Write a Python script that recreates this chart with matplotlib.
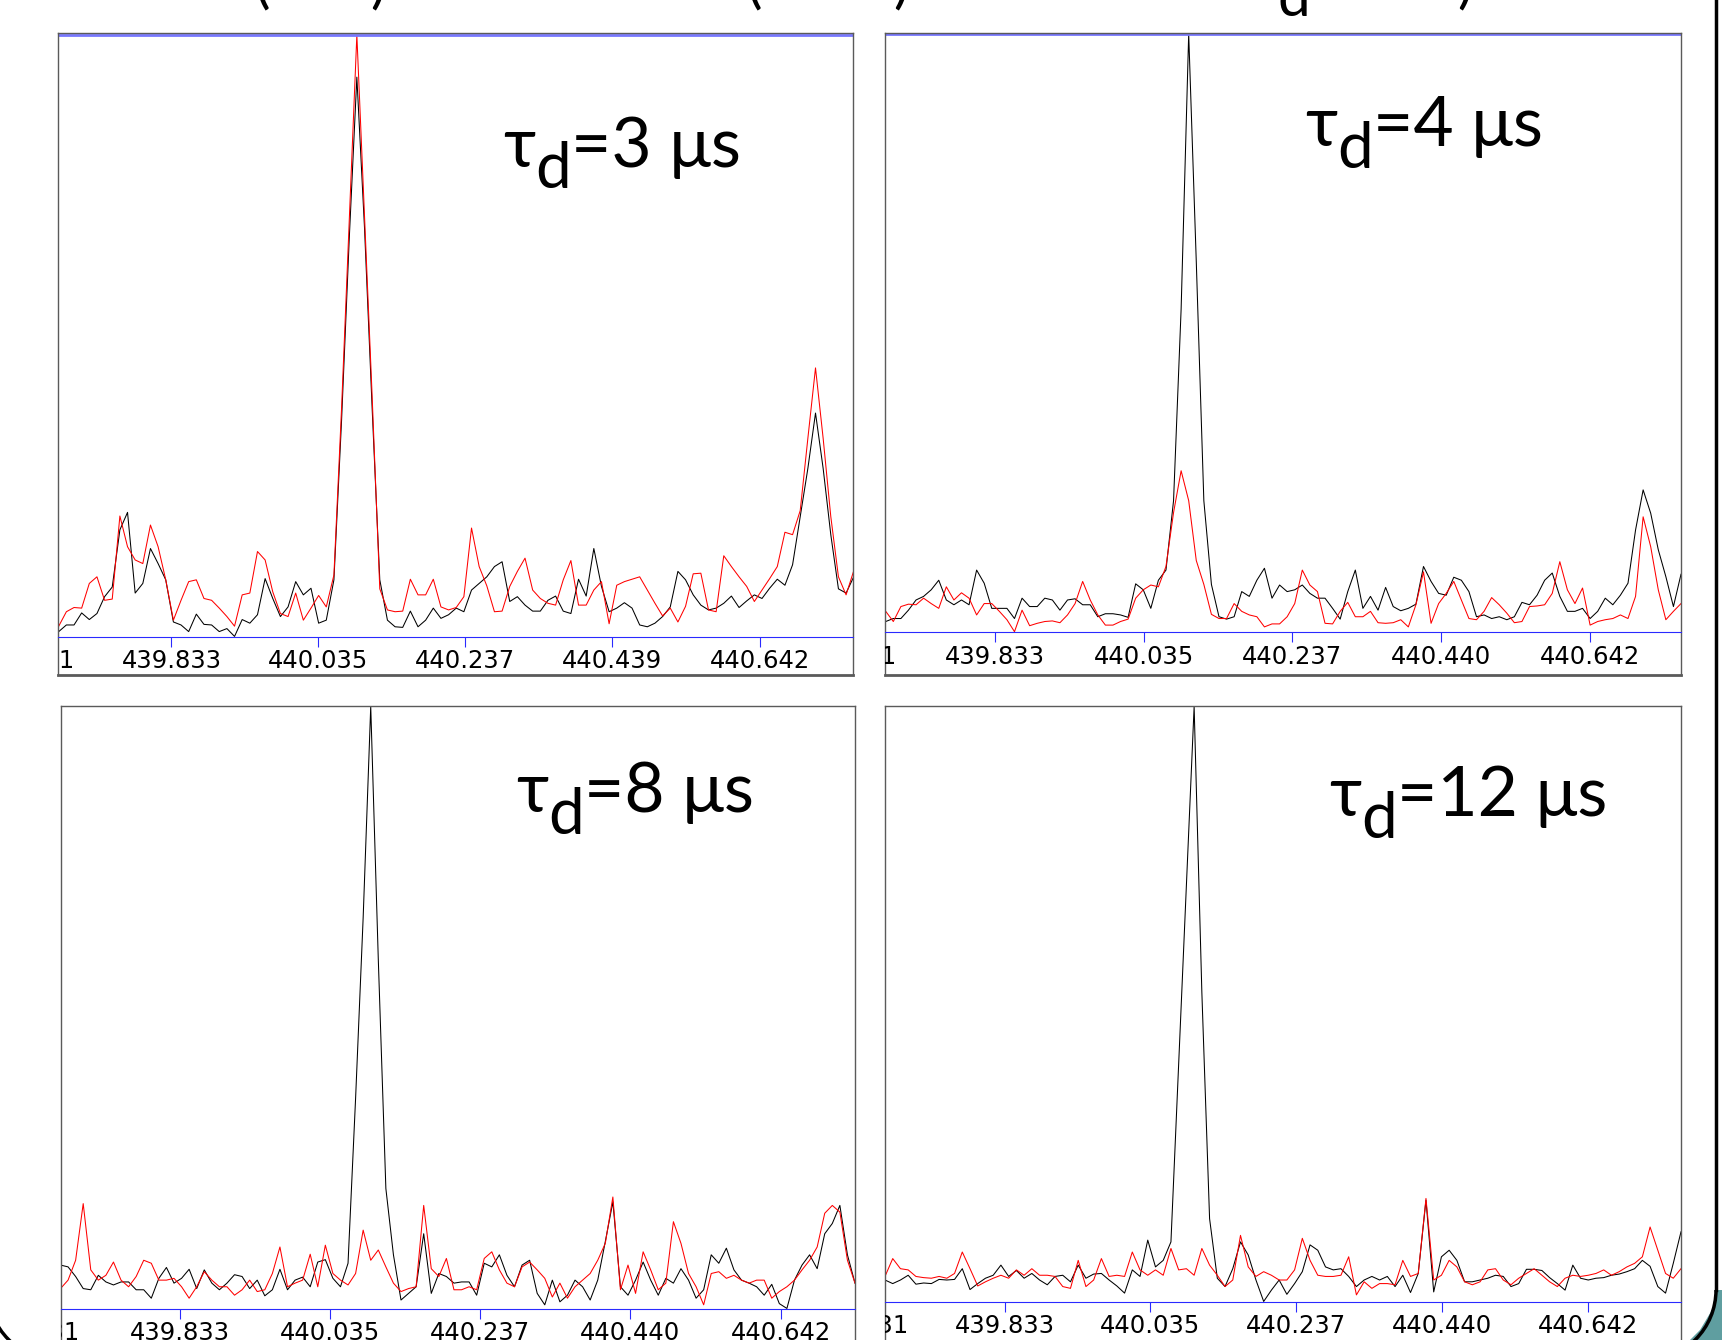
import matplotlib.pyplot as plt
import numpy as np
from matplotlib.patches import Arc, Polygon
from matplotlib.lines import Line2D
from matplotlib.transforms import IdentityTransform

# signal in % of full scale, spectra sampled evenly across each window (GHz)
p1_span = (439.678, 440.771)
p1_black = [0.9, 2.0, 2.0, 4.0, 2.9, 3.9, 6.7, 8.3, 17.8, 20.7, 7.3, 8.9, 14.7, 12.2, 9.5, 2.5, 2.0, 0.9,
            3.8, 2.1, 2.0, 0.9, 1.4, 0.1, 2.9, 2.3, 3.7, 9.7, 6.4, 3.4, 5.0, 9.2, 7.0, 8.1, 2.3, 2.8, 9.5,
            36, 66, 93, 68, 38, 9.5,
            2.8, 1.7, 1.6, 4.3, 1.7, 2.8, 4.8, 3.1, 3.7, 4.8, 4.2, 7.8, 8.9, 10.0, 11.7, 12.5, 5.9, 6.7,
            5.3, 4.3, 4.3, 6.1, 6.8, 4.3, 3.9, 9.6, 6.8, 14.7, 8.4, 4.2, 4.8, 5.7, 4.8, 2.0, 1.7, 2.3,
            3.4, 5.0, 10.9, 9.5, 7.0, 5.3, 4.5, 4.8, 5.6, 6.8, 4.9, 6.0, 7.0, 6.4, 8.1, 9.6, 8.6,
            12, 20, 28, 37.2, 28, 17, 8, 7.3, 10]
p1_red = [1.8, 4.2, 4.9, 4.8, 8.9, 10.0, 6.1, 6.3, 20.1, 15.0, 12.8, 12.2, 18.6, 15.0, 9.5, 2.8, 6.1,
          9.2, 9.5, 6.4, 6.1, 4.8, 3.4, 1.8, 7.0, 7.3, 14.2, 12.8, 7.5, 3.9, 3.4, 7.3, 2.8, 4.8, 6.9,
          5.0, 10.3,
          38, 69, 100, 70, 40, 8,
          4.5, 4.2, 4.3, 9.6, 7.0, 7.0, 9.6, 5.0, 4.5, 4.9, 6.7, 18.1, 11.7, 8.5, 4.2, 4.3, 8.4, 10.9,
          13.1, 7.8, 6.4, 5.6, 5.3, 9.5, 12.7, 5.3, 5.3, 7.8, 9.2, 2.2, 8.6, 9.2, 9.6, 10.0, 7.8, 5.6,
          3.5, 4.8, 2.5, 5.1, 10.5, 10.6, 4.5, 4.2, 13.5, 11.7, 10.0, 8.4, 5.9, 7.8, 9.7, 11.7, 17.4,
          17.0, 21, 33, 44.7, 33, 20, 10, 7, 11]

p2_span = (439.684, 440.766)
p2_black = [1.8, 2.3, 2.3, 3.7, 5.4, 6.0, 7.1, 8.7, 5.4, 4.6,
            5.4, 4.6, 10.4, 8.2, 4.0, 4.0, 4.0, 2.3, 5.7, 4.3,
            4.3, 5.7, 5.4, 3.7, 5.4, 5.6, 4.6, 4.6, 2.6, 3.1,
            3.1, 2.9, 2.5, 8.1, 7.1, 4.0, 8.7, 10.4, 22, 54,
            100, 62, 22, 8, 2.6, 2.2, 2.6, 6.8, 6.0, 8.7,
            10.7, 5.7, 7.9, 6.8, 7.1, 7.9, 6.5, 5.7, 5.7, 4.0,
            2.2, 6.8, 10.4, 4.0, 6.0, 3.7, 7.5, 4.3, 3.6, 4.0,
            4.7, 11.0, 8.5, 6.5, 6.2, 9.2, 8.7, 6.8, 2.6, 2.9,
            2.3, 2.6, 2.1, 2.6, 5.0, 4.6, 6.2, 8.7, 9.9, 6.0,
            3.5, 3.5, 4.0, 2.3, 3.5, 5.7, 4.6, 6.2, 8.2, 17.1,
            23.8, 19.9, 13.8, 9.3, 4.3, 9.7]
p2_red = [3.5, 1.8, 4.3, 4.7, 4.6, 5.7, 4.8, 4.0, 7.6, 5.4,
          6.6, 5.7, 2.9, 4.8, 4.8, 3.5, 2.1, 0.1, 3.7, 1.1,
          1.5, 1.8, 1.9, 1.6, 2.9, 4.8, 8.5, 5.4, 2.9, 1.2,
          1.2, 1.8, 2.2, 5.7, 7.1, 7.9, 7.6, 11.0, 20, 27,
          22, 12, 8, 3.0, 2.3, 2.3, 4.8, 3.5, 2.9, 2.6,
          0.9, 1.4, 1.4, 2.6, 4.8, 10.4, 7.9, 6.8, 1.5, 1.4,
          3.5, 5.0, 2.6, 2.6, 3.5, 1.6, 1.5, 1.6, 2.1, 0.9,
          4.6, 10.1, 1.5, 4.8, 6.5, 8.5, 5.4, 2.3, 2.1, 3.5,
          5.8, 4.6, 3.2, 1.6, 1.8, 4.3, 4.4, 4.6, 6.5, 11.8,
          7.1, 4.8, 7.4, 1.2, 1.8, 2.1, 2.3, 2.9, 2.3, 6.0,
          19.3, 14.3, 7.1, 2.1, 3.5, 4.8]

p3_span = (439.672, 440.742)
p3_black = [7.3, 7.0, 5.4, 3.4, 3.2, 5.6, 4.5, 4.0, 4.5, 4.5,
            3.2, 3.2, 1.8, 5.1, 6.9, 4.3, 5.1, 6.6, 3.4, 6.5,
            4.3, 3.2, 4.3, 5.7, 5.4, 3.4, 4.8, 2.2, 3.2, 6.6,
            3.2, 4.8, 5.3, 3.7, 7.8, 8.2, 5.1, 3.7, 7.6, 35,
            65, 100, 58, 20, 9, 1.5, 2.6, 3.7, 12.5, 2.6,
            5.9, 5.4, 4.3, 4.5, 4.5, 2.3, 7.6, 7.0, 9.0, 5.6,
            3.7, 7.3, 8.1, 2.6, 0.7, 4.8, 1.2, 2.3, 4.8, 3.7,
            1.5, 4.8, 11.2, 17.8, 3.7, 2.3, 4.8, 7.8, 4.8, 2.3,
            5.1, 4.3, 6.7, 4.8, 1.8, 3.2, 9.0, 7.6, 10.1, 6.5,
            4.8, 4.3, 3.7, 2.3, 4.1, 0.9, 0.1, 4.8, 7.3, 9.0,
            6.7, 12.5, 14.2, 17.2, 9.0, 4.3]
p3_red = [3.4, 4.8, 8.1, 17.5, 6.5, 4.8, 5.6, 7.8, 4.8, 3.7,
          5.4, 8.1, 7.6, 4.8, 4.8, 5.1, 3.7, 1.8, 3.7, 6.2,
          4.8, 3.7, 3.7, 2.3, 3.2, 4.8, 2.9, 3.2, 5.9, 10.3,
          3.7, 4.3, 4.8, 9.1, 3.7, 10.6, 5.9, 4.8, 4.0, 5.9,
          13.1, 8.1, 9.8, 7.0, 4.3, 2.9, 3.4, 3.7, 17.2, 6.7,
          5.4, 8.4, 3.2, 3.2, 3.7, 3.2, 8.4, 9.5, 6.5, 4.3,
          3.7, 7.0, 7.8, 6.5, 5.1, 2.0, 4.3, 1.8, 3.7, 4.8,
          5.9, 8.1, 10.9, 18.6, 3.2, 7.3, 2.6, 9.5, 6.5, 3.2,
          4.3, 14.5, 10.9, 5.9, 3.7, 0.7, 5.9, 6.2, 5.1, 5.6,
          4.8, 4.3, 4.8, 4.8, 1.8, 2.9, 3.7, 4.8, 6.5, 8.1,
          10.3, 15.9, 17.2, 16.1, 8.1, 4.3]

p4_span = (439.667, 440.771)
p4_black = [3.7, 3.1, 3.7, 4.5, 3.0, 3.2, 3.1, 3.8, 3.7, 3.8,
            5.6, 2.1, 3.1, 4.0, 4.5, 6.2, 4.3, 5.3, 4.0, 4.8,
            3.7, 2.9, 4.3, 4.5, 3.4, 6.2, 4.0, 4.7, 4.8, 3.7,
            2.7, 1.5, 5.4, 4.3, 10.4, 5.9, 7.0, 10.1, 40, 70,
            100, 52, 14, 4.0, 2.6, 5.6, 10.1, 7.9, 3.7, 0.1,
            2.0, 3.7, 1.3, 3.1, 5.1, 9.6, 8.7, 5.9, 5.4, 5.6,
            4.3, 2.6, 3.7, 4.3, 3.7, 4.3, 2.6, 4.5, 1.6, 4.8,
            17.1, 1.7, 7.6, 8.7, 7.0, 3.4, 3.4, 3.7, 4.0, 4.5,
            4.3, 2.6, 3.1, 5.5, 5.5, 5.3, 4.1, 3.1, 2.0, 6.2,
            4.0, 3.7, 4.0, 4.1, 4.5, 4.7, 5.1, 5.6, 7.0, 6.0,
            2.6, 1.5, 6.5, 11.8]
p4_red = [4.3, 7.3, 5.6, 5.4, 4.3, 4.1, 4.0, 4.3, 4.0, 4.8,
          8.4, 5.6, 2.7, 3.4, 4.0, 4.5, 4.0, 5.4, 4.5, 5.6,
          4.5, 4.5, 4.3, 2.6, 2.3, 7.0, 2.6, 3.7, 7.3, 4.3,
          4.5, 4.3, 8.4, 5.4, 4.5, 5.4, 4.5, 9.0, 5.4, 5.6,
          4.5, 9.0, 6.2, 4.5, 2.6, 3.7, 11.2, 5.9, 4.3, 5.1,
          4.5, 3.7, 3.7, 5.4, 10.7, 7.0, 4.5, 4.3, 4.3, 4.5,
          7.6, 1.2, 3.4, 2.3, 3.1, 3.1, 2.9, 7.0, 4.3, 4.8,
          17.4, 3.7, 4.5, 7.0, 5.9, 3.4, 2.9, 3.4, 5.4, 5.6,
          3.7, 2.9, 4.0, 4.8, 5.6, 4.5, 3.4, 2.6, 4.0, 4.5,
          4.3, 4.5, 4.8, 5.4, 4.5, 5.1, 5.9, 6.5, 7.6, 12.6,
          8.7, 4.8, 4.0, 5.6]

delays = ['3', '4', '8', '12']
ticks = [439.631, 439.833, 440.035, 440.237, 440.439, 440.642]
labels_a = ['439.631', '439.833', '440.035', '440.237', '440.439', '440.642']
labels_b = ['439.631', '439.833', '440.035', '440.237', '440.440', '440.642']

W, H = 1722, 1340
frame_col = '#5a5a5a'
axis_blue = '#2a2aff'
top_blue = '#7777ff'
label_font = ['Lato', 'Noto Sans', 'DejaVu Sans']
tick_size = 17.5

# rect (px: left, top, right, bottom), xlim, ylim, label pos (axes fraction)
layout = [
    ((58, 33, 853, 675), (439.677, 440.770), (-6.31, 100.33), (0.560, 0.792), True),
    ((885, 33, 1681, 675), (439.683, 440.766), (-7.14, 100.17), (0.528, 0.824), True),
    ((60.5, 706, 855, 1347), (439.672, 440.742), (-6.3, 100.1), (0.573, 0.835), False),
    ((885, 706, 1681, 1347), (439.667, 440.771), (-7.55, 100.1), (0.558, 0.828), False),
]
data = [(p1_span, p1_black, p1_red, labels_a), (p2_span, p2_black, p2_red, labels_b),
        (p3_span, p3_black, p3_red, labels_b), (p4_span, p4_black, p4_red, labels_b)]


def tau_label(ax, pos, value):
    t1 = ax.text(pos[0], pos[1], 'τ', transform=ax.transAxes, fontsize=50,
                 family=label_font, va='baseline', ha='left')
    t2 = ax.annotate('d', xy=(1, 0), xycoords=t1, xytext=(0, -15),
                     textcoords='offset points', fontsize=46, family=label_font,
                     va='bottom', ha='left')
    ax.annotate(f'={value} μs', xy=(1, 0), xycoords=(t2, t1), xytext=(0, 0),
                textcoords='offset points', fontsize=50, family=label_font,
                va='bottom', ha='left')


fig = plt.figure(figsize=(W / 100, H / 100), dpi=100)

for (rect, xlim, ylim, lab_pos, blue_top), (span, black, red, labels), delay in zip(layout, data, delays):
    l, t, r, b = rect
    ax = fig.add_axes([l / W, (H - b) / H, (r - l) / W, (b - t) / H])
    f_black = np.linspace(span[0], span[1], len(black))
    f_red = np.linspace(span[0], span[1], len(red))
    ax.plot(f_black, black, color='black', lw=0.75)
    ax.plot(f_red, red, color='#ff0000', lw=0.75)
    ax.set_xlim(*xlim)
    ax.set_ylim(*ylim)
    ax.set_yticks([])

    for side in ['left', 'right', 'top']:
        ax.spines[side].set_color(frame_col)
        ax.spines[side].set_linewidth(1.0)
    ax.spines['bottom'].set_position(('data', 0))
    ax.spines['bottom'].set_color(axis_blue)
    ax.spines['bottom'].set_linewidth(0.8)
    ax.plot([0, 1], [0, 0], transform=ax.transAxes, color=frame_col, lw=2.0, clip_on=False)
    if blue_top:
        ax.axhline(100, color=top_blue, lw=2.0)

    ax.set_xticks(ticks[1:], labels[1:])
    ax.tick_params(axis='x', direction='out', length=7.2, width=0.8, color=axis_blue,
                   pad=1.6, labelsize=tick_size, labelcolor='black')
    for lab in ax.get_xticklabels():
        lab.set_family('DejaVu Sans')
    # first label sits outside the window, only its tail shows
    ax.annotate(labels[0], xy=(ticks[0], 0), xytext=(0, -8.8), textcoords='offset points',
                ha='center', va='top', fontsize=tick_size, family='DejaVu Sans',
                annotation_clip=False, clip_on=True)

    tau_label(ax, lab_pos, delay)

# bits of the slide title cut by the top edge
for ch, xp, yb in [('(', 262, 1), (')', 378, 1), ('(', 754, 1), (')', 901, 1), ('d', 1294, 16), (')', 1465, 1)]:
    fig.text(xp / W, 1 - yb / H, ch, fontsize=42, family=label_font, ha='center', va='baseline')

# slide frame (display pixels, origin bottom-left)
px = IdentityTransform()
fig.add_artist(Polygon([(1716, 50), (1712, 30), (1700, 10), (1690, 0), (1722, 0), (1722, 50)],
                       closed=True, transform=px, fc='#5f9ea0', ec='none'))
fig.add_artist(Line2D([1716, 1716], [50, 1360], transform=px, color='black', lw=2.5))
fig.add_artist(Arc((1646, 50), 140, 140, theta1=270, theta2=360, transform=px, color='black', lw=2.5))
fig.add_artist(Arc((58, 50), 140, 140, theta1=180, theta2=270, transform=px, color='black', lw=2.5))

fig.savefig('out.png', dpi=100, facecolor='white')
